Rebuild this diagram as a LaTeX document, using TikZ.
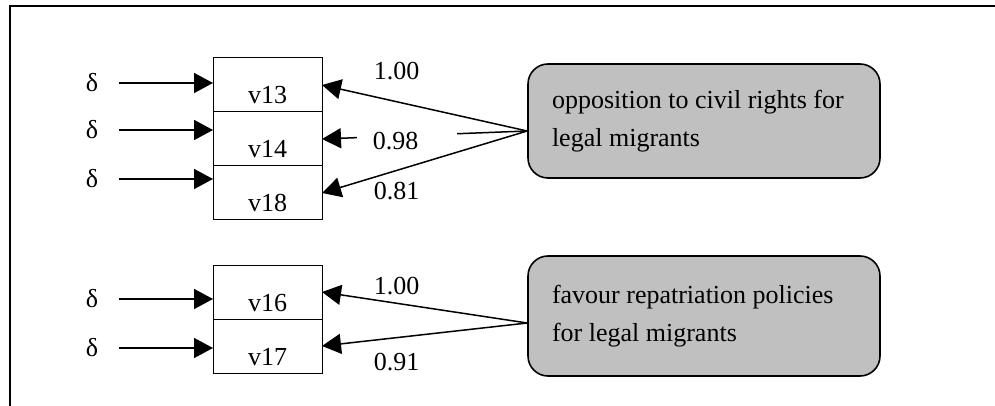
\documentclass[tikz,border=0pt]{standalone}
\usepackage{fontspec}
\setmainfont{Liberation Serif}
\usetikzlibrary{arrows.meta,positioning}
\definecolor{factorgray}{RGB}{192,192,192}

\begin{document}
\begin{tikzpicture}[
  x=0.5pt, y=-0.5pt,
  font=\fontsize{13}{19}\selectfont,
  item/.style={rectangle, draw=black, line width=0.5pt, minimum width=54.5pt, minimum height=27pt, inner ysep=0pt, text height=23pt, text depth=4pt, outer sep=0pt},
  factor/.style={rectangle, rounded corners=10pt, draw=black, line width=0.8pt, fill=factorgray, align=flush left, text width=152pt, inner xsep=12pt, minimum width=176pt},
  err/.style={inner sep=0pt},
  coef/.style={inner sep=0pt},
  arrow/.style={-{Triangle[length=9.5pt,width=10pt]}, line width=0.75pt}
]
\useasboundingbox (0,0) rectangle (995,406);
\draw[line width=1pt] (9.5,406) -- (9.5,6) -- (995,6);

\node[item] (v13) at (267.5,85) {v13};
\node[item, below=0pt of v13] (v14) {v14};
\node[item, below=0pt of v14] (v18) {v18};
\node[item] (v16) at (267.5,292) {v16};
\node[item, below=0pt of v16] (v17) {v17};

\node[err] (d13) at (92,83) {δ};
\node[err] (d14) at (92,130) {δ};
\node[err] (d18) at (92,179) {δ};
\node[err] (d16) at (92,299) {δ};
\node[err] (d17) at (92,348) {δ};

\node[factor, minimum height=57pt] (civil) at (704,121) {opposition to civil rights for\\legal migrants};
\node[factor, minimum height=60pt] (repat) at (704,316) {favour repatriation policies\\for legal migrants};

\draw[arrow, shorten <=10pt] (d13.east) -- (d13 -| v13.west);
\draw[arrow, shorten <=10pt] (d14.east) -- (d14 -| v14.west);
\draw[arrow, shorten <=10pt] (d18.east) -- (d18 -| v18.west);
\draw[arrow, shorten <=10pt] (d16.east) -- (d16 -| v16.west);
\draw[arrow, shorten <=10pt] (d17.east) -- (d17 -| v17.west);

\draw[arrow] ([yshift=-5pt]civil.west) -- (v14.east)
  node[coef, pos=0.587, yshift=-2.5pt, fill=white, text width=34pt, inner xsep=8pt, align=left] {0.98};
\draw[arrow] ([yshift=-5pt]civil.west) -- (v13.east)
  node[coef, pos=0.636, above=10.6pt] {1.00};
\draw[arrow] ([yshift=-5pt]civil.west) -- (v18.east)
  node[coef, pos=0.636, below=5.6pt] {0.81};
\draw[arrow] ([yshift=-3.5pt]repat.west) -- (v16.east)
  node[coef, pos=0.636, above=4pt] {1.00};
\draw[arrow] ([yshift=-3.5pt]repat.west) -- (v17.east)
  node[coef, pos=0.636, below=7.6pt] {0.91};
\end{tikzpicture}
\end{document}
